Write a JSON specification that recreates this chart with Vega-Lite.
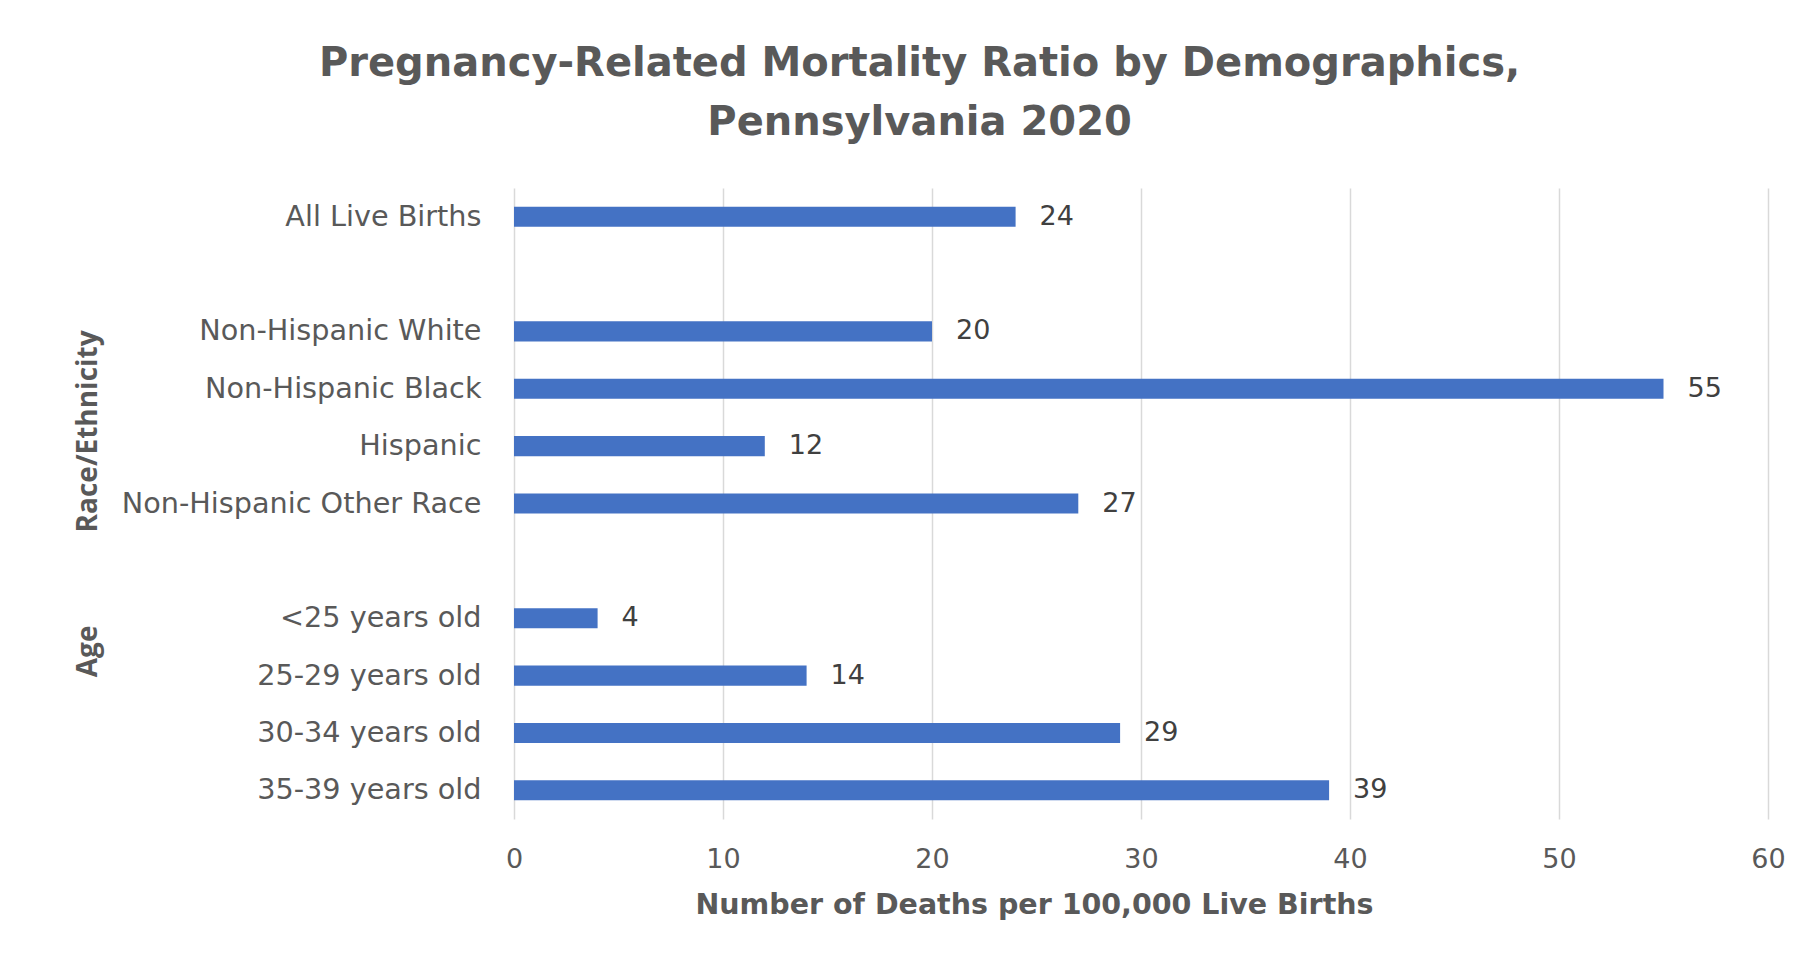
{
  "$schema": "https://vega.github.io/schema/vega-lite/v6.json",
  "width": 1254,
  "height": 631,
  "autosize": {"type": "none"},
  "padding": {"left": 514, "top": 188, "right": 42, "bottom": 148},
  "background": "white",
  "config": {"view": {"stroke": null}, "font": "DejaVu Sans"},
  "title": {
    "text": ["Pregnancy-Related Mortality Ratio by Demographics,", "Pennsylvania 2020"],
    "font": "DejaVu Sans",
    "fontSize": 40,
    "fontWeight": "bold",
    "color": "#595959",
    "anchor": "middle",
    "frame": "bounds",
    "lineHeight": 59,
    "offset": 45,
    "dx": -10
  },
  "datasets": {
    "ratios": [
      {"label": "All Live Births\u00a0", "value": 24},
      {"label": "Non-Hispanic White", "value": 20},
      {"label": "Non-Hispanic Black", "value": 55},
      {"label": "Hispanic", "value": 12},
      {"label": "Non-Hispanic Other Race", "value": 27},
      {"label": "<25 years old\u00a0", "value": 4},
      {"label": "25-29 years old", "value": 14},
      {"label": "30-34 years old", "value": 29},
      {"label": "35-39 years old", "value": 39}
    ],
    "groups": [
      {"group": "Race/Ethnicity"},
      {"group": "Age"}
    ]
  },
  "layer": [
    {
      "data": {"name": "ratios"},
      "encoding": {
        "y": {
          "field": "label",
          "type": "nominal",
          "sort": null,
          "scale": {
            "type": "band",
            "domain": [
              "All Live Births\u00a0",
              " ",
              "Non-Hispanic White",
              "Non-Hispanic Black",
              "Hispanic",
              "Non-Hispanic Other Race",
              "  ",
              "<25 years old\u00a0",
              "25-29 years old",
              "30-34 years old",
              "35-39 years old"
            ],
            "paddingInner": 0.65,
            "paddingOuter": 0.325
          },
          "axis": {
            "title": null,
            "domain": false,
            "ticks": false,
            "tickSize": 0,
            "grid": false,
            "labelFont": "DejaVu Sans",
            "labelFontSize": 28.7,
            "labelColor": "#595959",
            "labelPadding": 33,
            "labelLimit": 0
          }
        },
        "x": {
          "field": "value",
          "type": "quantitative",
          "scale": {"domain": [0, 60], "nice": false},
          "axis": {
            "values": [0, 10, 20, 30, 40, 50, 60],
            "grid": true,
            "gridColor": "#D9D9D9",
            "gridWidth": 1.5,
            "domain": false,
            "ticks": false,
            "tickSize": 0,
            "labelFlush": false,
            "labelFont": "DejaVu Sans",
            "labelFontSize": 27,
            "labelColor": "#595959",
            "labelPadding": 27,
            "title": "Number of Deaths per 100,000 Live Births",
            "titleFont": "DejaVu Sans",
            "titleFontSize": 28.5,
            "titleFontWeight": "bold",
            "titleColor": "#595959",
            "titleX": 520,
            "titleY": 94,
            "titleAlign": "center",
            "titleBaseline": "alphabetic"
          }
        }
      },
      "layer": [
        {"mark": {"type": "bar", "color": "#4472C4"}},
        {
          "mark": {
            "type": "text",
            "align": "left",
            "baseline": "middle",
            "dx": 24,
            "font": "DejaVu Sans",
            "fontSize": 27,
            "color": "#404040"
          },
          "encoding": {"text": {"field": "value", "type": "quantitative"}}
        }
      ]
    },
    {
      "data": {"name": "groups"},
      "mark": {"type": "point", "opacity": 0},
      "encoding": {
        "y": {
          "field": "group",
          "type": "nominal",
          "sort": null,
          "scale": {
            "type": "point",
            "domain": ["Race/Ethnicity", "Age"],
            "padding": 0.934,
            "align": 0.591
          },
          "axis": {
            "orient": "left",
            "title": null,
            "domain": false,
            "ticks": false,
            "tickSize": 0,
            "grid": false,
            "labelAngle": -90,
            "labelAlign": "center",
            "labelBaseline": "bottom",
            "labelFont": "Open Sans",
            "labelFontSize": 28,
            "labelFontWeight": "bold",
            "labelColor": "#595959",
            "labelPadding": 412,
            "labelLimit": 0,
            "labelOverlap": false
          }
        }
      }
    }
  ],
  "resolve": {"scale": {"y": "independent"}}
}
